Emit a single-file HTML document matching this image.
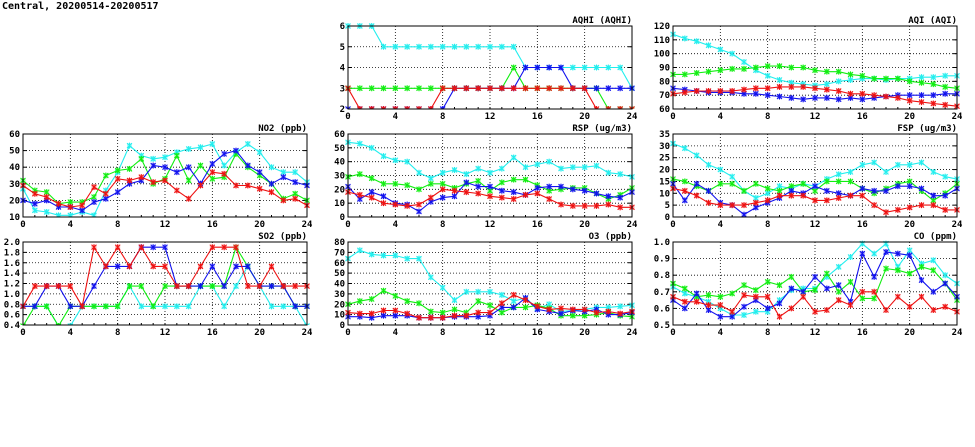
<!DOCTYPE html>
<html><head><meta charset="utf-8"><style>
html,body{margin:0;padding:0;background:#fff;}
svg{display:block;}
text{font-family:"DejaVu Sans Mono","Liberation Mono",monospace;font-weight:bold;font-size:9px;fill:#000;}
</style></head><body>
<svg id="s" width="975" height="447" viewBox="0 0 975 447" xmlns="http://www.w3.org/2000/svg">
<rect width="975" height="447" fill="#fff"/>
<text x="2" y="9" style="font-size:10px">Central, 20200514-20200517</text>
</svg>
<script>
var C={c:"#22eeee",g:"#11ee11",b:"#1111ee",r:"#ee1111"};
var P=[
{t:"AQHI (AQHI)",x:348,y:26,y0:2,y1:6,st:1,dec:0,d:{
c:[6,6,6,5,5,5,5,5,5,5,5,5,5,5,5,4,4,4,4,4,4,4,4,4,3],
g:[3,3,3,3,3,3,3,3,3,3,3,3,3,3,4,3,3,3,3,3,3,3,2,2,2],
b:[2,2,2,2,2,2,2,2,2,3,3,3,3,3,3,4,4,4,4,3,3,3,3,3,3],
r:[3,2,2,2,2,2,2,2,3,3,3,3,3,3,3,3,3,3,3,3,3,2,2,2,2]}},
{t:"AQI (AQI)",x:673,y:26,y0:60,y1:120,st:10,dec:0,d:{
c:[114,111,109,106,103,100,94,88,84,81,79,78,77,78,80,81,82,82,81,82,82,83,83,84,84],
g:[85,85,86,87,88,89,89,90,91,91,90,90,88,87,87,85,84,82,82,82,80,79,78,76,75],
b:[75,74,73,72,72,72,71,71,70,69,68,67,68,68,67,68,67,68,69,70,70,70,70,71,71],
r:[71,72,73,73,73,73,74,75,75,76,76,76,75,74,73,71,71,70,69,68,66,65,64,63,62]}},
{t:"NO2 (ppb)",x:23,y:134,y0:10,y1:60,st:10,dec:0,d:{
c:[27,14,13,11,11,13,11,26,37,53,47,45,46,49,51,52,54,41,49,54,49,40,37,37,31],
g:[32,26,25,18,19,19,22,35,38,39,45,30,33,47,32,41,33,34,48,40,35,30,21,24,20],
b:[20,18,20,16,16,14,19,21,25,30,32,41,40,37,40,30,42,48,50,41,37,30,34,31,29],
r:[29,24,22,18,16,17,28,24,33,32,34,31,32,26,21,29,37,36,29,29,27,25,20,21,17]}},
{t:"RSP (ug/m3)",x:348,y:134,y0:0,y1:60,st:10,dec:0,d:{
c:[54,53,50,44,41,40,32,28,32,34,31,35,32,35,43,36,38,40,35,36,36,37,32,31,29],
g:[29,31,28,24,24,23,20,24,24,21,24,26,19,25,27,27,23,19,20,21,21,17,13,16,21],
b:[22,13,18,15,10,9,4,11,14,15,25,22,22,19,18,16,21,22,22,20,19,17,15,14,18],
r:[18,16,14,10,9,8,9,14,20,19,18,17,15,14,13,16,17,13,9,8,8,8,9,7,7]}},
{t:"FSP (ug/m3)",x:673,y:134,y0:0,y1:35,st:5,dec:0,d:{
c:[31,29,26,22,20,17,11,8,10,13,12,14,13,16,18,19,22,23,19,22,22,23,19,17,16],
g:[16,15,13,11,14,14,11,14,12,11,13,14,11,15,15,15,12,10,12,14,15,11,7,10,14],
b:[14,7,14,11,6,5,1,4,6,8,11,10,13,11,10,9,12,11,11,13,13,12,9,9,12],
r:[12,11,9,6,5,5,5,6,7,9,9,9,7,7,8,9,9,5,2,3,4,5,5,3,3]}},
{t:"SO2 (ppb)",x:23,y:242,y0:0.4,y1:2.0,st:0.2,dec:1,d:{
c:[0.76,0.76,0.76,0.38,0.38,0.76,0.76,0.76,0.76,1.15,0.76,0.76,0.76,0.76,0.76,1.15,1.15,0.76,1.15,1.53,1.15,0.76,0.76,0.76,0.38],
g:[0.38,0.76,0.76,0.38,0.76,0.76,0.76,0.76,0.76,1.15,1.15,0.76,1.15,1.15,1.15,1.15,1.15,1.15,1.9,1.53,1.15,1.15,1.15,0.76,0.76],
b:[0.76,0.76,1.15,1.15,0.76,0.76,1.15,1.53,1.53,1.53,1.9,1.9,1.9,1.15,1.15,1.15,1.53,1.15,1.53,1.53,1.15,1.15,1.15,0.76,0.76],
r:[0.76,1.15,1.15,1.15,1.15,0.76,1.9,1.53,1.9,1.53,1.9,1.53,1.53,1.15,1.15,1.53,1.9,1.9,1.9,1.15,1.15,1.53,1.15,1.15,1.15]}},
{t:"O3 (ppb)",x:348,y:242,y0:0,y1:80,st:10,dec:0,d:{
c:[64,72,68,67,67,64,64,46,36,24,32,32,32,29,23,26,16,20,13,14,15,17,17,18,19],
g:[20,23,25,33,28,23,21,13,12,15,12,23,19,12,17,17,19,16,9,9,9,10,12,9,8],
b:[8,8,7,9,9,9,7,7,7,8,8,8,9,17,17,26,15,13,11,14,13,15,10,10,12],
r:[12,11,11,14,14,11,7,7,7,9,9,12,12,21,29,24,18,15,16,15,15,12,13,11,13]}},
{t:"CO (ppm)",x:673,y:242,y0:0.5,y1:1.0,st:0.1,dec:1,d:{
c:[.73,.69,.67,.64,.6,.56,.56,.58,.58,.65,.71,.72,.72,.79,.85,.91,.99,.93,.99,.85,.95,.87,.89,.8,.75],
g:[.75,.72,.67,.68,.67,.69,.74,.71,.76,.74,.79,.70,.71,.81,.70,.76,.66,.66,.84,.83,.81,.85,.83,.75,.65],
b:[.65,.6,.69,.59,.55,.55,.61,.65,.6,.63,.72,.7,.79,.72,.74,.64,.93,.79,.94,.93,.92,.77,.7,.75,.67],
r:[.67,.64,.64,.62,.62,.58,.68,.67,.67,.55,.6,.67,.58,.59,.65,.62,.70,.70,.59,.67,.61,.67,.59,.61,.58]}}
];
var W=284,H=83,s="";
P.forEach(function(p,i){
 var cid="cp"+i;
 s+='<clipPath id="'+cid+'"><rect x="'+(p.x-4)+'" y="'+(p.y-4)+'" width="'+(W+8)+'" height="'+(H+4)+'"/></clipPath>';
 var fy=function(v){return p.y+H-(v-p.y0)/(p.y1-p.y0)*H;};
 var fx=function(h){return p.x+h*W/24;};
 var n=Math.round((p.y1-p.y0)/p.st);
 for(var k=0;k<=n;k++){var v=p.y0+k*p.st,yy=fy(v);
  if(k>0&&k<n)s+='<line x1="'+p.x+'" x2="'+(p.x+W)+'" y1="'+yy+'" y2="'+yy+'" stroke="#000" stroke-width="0.8" stroke-dasharray="1,2"/>';
  s+='<line x1="'+p.x+'" x2="'+(p.x+4)+'" y1="'+yy+'" y2="'+yy+'" stroke="#000"/><line x1="'+(p.x+W-4)+'" x2="'+(p.x+W)+'" y1="'+yy+'" y2="'+yy+'" stroke="#000"/>';
  s+='<text x="'+(p.x-3)+'" y="'+(yy+3)+'" text-anchor="end">'+v.toFixed(p.dec)+'</text>';}
 for(var h=0;h<=24;h+=4){var xx=fx(h);
  if(h>0&&h<24)s+='<line x1="'+xx+'" x2="'+xx+'" y1="'+p.y+'" y2="'+(p.y+H)+'" stroke="#000" stroke-width="0.8" stroke-dasharray="1,2"/>';
  s+='<text x="'+xx+'" y="'+(p.y+H+10)+'" text-anchor="middle">'+h+'</text>';}
 for(var h=0;h<=24;h++){var xx=fx(h);s+='<line x1="'+xx+'" x2="'+xx+'" y1="'+(p.y+H)+'" y2="'+(p.y+H-2)+'" stroke="#000"/>';}
 s+='<g clip-path="url(#'+cid+')">';
 ["c","g","b","r"].forEach(function(k){var a=p.d[k],pts=a.map(function(v,h){return fx(h).toFixed(1)+","+fy(v).toFixed(1);});
  s+='<polyline points="'+pts.join(" ")+'" fill="none" stroke="'+C[k]+'" stroke-width="1.1"/>';
  a.forEach(function(v,h){var X=fx(h),Y=fy(v);
   s+='<rect x="'+(X-2.5)+'" y="'+(Y-2.5)+'" width="5" height="5" fill="'+C[k]+'" opacity="0.35"/>';
   s+='<path d="M'+(X-2.5)+' '+(Y-2.5)+'L'+(X+2.5)+' '+(Y+2.5)+'M'+(X-2.5)+' '+(Y+2.5)+'L'+(X+2.5)+' '+(Y-2.5)+'M'+X+' '+(Y-3)+'V'+(Y+3)+'" stroke="'+C[k]+'" stroke-width="1"/>';});
 });
 s+='</g>';
 s+='<rect x="'+p.x+'" y="'+p.y+'" width="'+W+'" height="'+H+'" fill="none" stroke="#000" stroke-width="1"/>';
 s+='<text x="'+(p.x+W)+'" y="'+(p.y-3)+'" text-anchor="end">'+p.t+'</text>';
});
document.getElementById("s").insertAdjacentHTML("beforeend",s);
</script>
</body></html>
